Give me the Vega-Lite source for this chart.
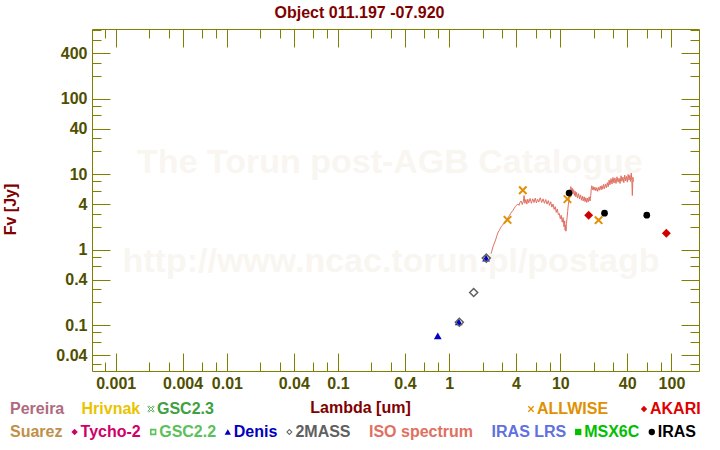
{
  "$schema": "https://vega.github.io/schema/vega-lite/v6.json",
  "width": 607,
  "height": 342,
  "autosize": "none",
  "padding": {"left": 92, "top": 29, "right": 21, "bottom": 79},
  "background": "white",
  "title": {"text": "Object 011.197 -07.920", "font": "Liberation Sans", "fontSize": 16, "fontWeight": "bold", "color": "#800000", "anchor": "middle", "dx": -36, "offset": 8},
  "datasets": {
    "phot": [
      {"catalog": "Denis", "lambda": 0.79, "flux": 0.072},
      {"catalog": "Denis", "lambda": 1.22, "flux": 0.11},
      {"catalog": "Denis", "lambda": 2.15, "flux": 0.77},
      {"catalog": "2MASS", "lambda": 1.235, "flux": 0.109},
      {"catalog": "2MASS", "lambda": 1.662, "flux": 0.27},
      {"catalog": "2MASS", "lambda": 2.159, "flux": 0.77},
      {"catalog": "ALLWISE", "lambda": 3.35, "flux": 2.47},
      {"catalog": "ALLWISE", "lambda": 4.6, "flux": 6.1},
      {"catalog": "ALLWISE", "lambda": 11.6, "flux": 4.65},
      {"catalog": "ALLWISE", "lambda": 22.1, "flux": 2.45},
      {"catalog": "AKARI", "lambda": 18, "flux": 2.85},
      {"catalog": "AKARI", "lambda": 90, "flux": 1.64},
      {"catalog": "IRAS", "lambda": 12, "flux": 5.6},
      {"catalog": "IRAS", "lambda": 25, "flux": 3.03},
      {"catalog": "IRAS", "lambda": 60, "flux": 2.85}
    ],
    "watermark": [
      {"text": "The Torun post-AGB Catalogue", "lambda": 0.293, "flux": 14.1},
      {"text": "http://www.ncac.torun.pl/postagb", "lambda": 0.3, "flux": 0.685}
    ],
    "spectrum": [
      {"lambda": 2.38, "flux": 0.88}, {"lambda": 2.42, "flux": 0.95}, {"lambda": 2.46, "flux": 1.05}, {"lambda": 2.5, "flux": 1.12},
      {"lambda": 2.55, "flux": 1.22}, {"lambda": 2.6, "flux": 1.3}, {"lambda": 2.65, "flux": 1.42}, {"lambda": 2.7, "flux": 1.55},
      {"lambda": 2.76, "flux": 1.7}, {"lambda": 2.82, "flux": 1.78}, {"lambda": 2.88, "flux": 1.9}, {"lambda": 2.95, "flux": 2.02},
      {"lambda": 3.02, "flux": 2.1}, {"lambda": 3.1, "flux": 2.22}, {"lambda": 3.18, "flux": 2.35}, {"lambda": 3.26, "flux": 2.45},
      {"lambda": 3.34, "flux": 2.55}, {"lambda": 3.42, "flux": 2.72}, {"lambda": 3.5, "flux": 2.85}, {"lambda": 3.58, "flux": 3.02},
      {"lambda": 3.66, "flux": 3.15}, {"lambda": 3.75, "flux": 3.3}, {"lambda": 3.84, "flux": 3.5}, {"lambda": 3.94, "flux": 3.7},
      {"lambda": 4.04, "flux": 3.85}, {"lambda": 4.14, "flux": 4.02}, {"lambda": 4.25, "flux": 3.85}, {"lambda": 4.35, "flux": 4.25},
      {"lambda": 4.45, "flux": 4.4}, {"lambda": 4.55, "flux": 3.95}, {"lambda": 4.65, "flux": 4.35}, {"lambda": 4.72, "flux": 5.2},
      {"lambda": 4.8, "flux": 4.1}, {"lambda": 4.9, "flux": 4.6}, {"lambda": 5.0, "flux": 4.0}, {"lambda": 5.1, "flux": 4.65},
      {"lambda": 5.2, "flux": 4.15}, {"lambda": 5.35, "flux": 4.75}, {"lambda": 5.5, "flux": 4.1}, {"lambda": 5.65, "flux": 4.7},
      {"lambda": 5.8, "flux": 4.2}, {"lambda": 5.95, "flux": 4.8}, {"lambda": 6.1, "flux": 4.15}, {"lambda": 6.25, "flux": 4.65},
      {"lambda": 6.4, "flux": 4.25}, {"lambda": 6.6, "flux": 4.85}, {"lambda": 6.8, "flux": 4.2}, {"lambda": 7.0, "flux": 4.7},
      {"lambda": 7.2, "flux": 4.1}, {"lambda": 7.4, "flux": 4.6}, {"lambda": 7.6, "flux": 4.0}, {"lambda": 7.8, "flux": 4.45},
      {"lambda": 8.0, "flux": 3.85}, {"lambda": 8.2, "flux": 4.3}, {"lambda": 8.4, "flux": 3.65}, {"lambda": 8.6, "flux": 4.0},
      {"lambda": 8.8, "flux": 3.4}, {"lambda": 9.0, "flux": 3.7}, {"lambda": 9.2, "flux": 3.1}, {"lambda": 9.4, "flux": 3.45},
      {"lambda": 9.6, "flux": 2.9}, {"lambda": 9.8, "flux": 3.0}, {"lambda": 10.0, "flux": 2.55}, {"lambda": 10.2, "flux": 2.85},
      {"lambda": 10.4, "flux": 2.3}, {"lambda": 10.6, "flux": 2.65}, {"lambda": 10.8, "flux": 2.0}, {"lambda": 10.95, "flux": 2.4},
      {"lambda": 11.05, "flux": 1.8}, {"lambda": 11.15, "flux": 2.1}, {"lambda": 11.25, "flux": 1.75}, {"lambda": 11.35, "flux": 2.2},
      {"lambda": 11.5, "flux": 2.6}, {"lambda": 11.65, "flux": 3.2}, {"lambda": 11.8, "flux": 3.9}, {"lambda": 11.95, "flux": 4.4},
      {"lambda": 12.05, "flux": 5.5}, {"lambda": 12.15, "flux": 6.2}, {"lambda": 12.3, "flux": 5.3}, {"lambda": 12.45, "flux": 6.8},
      {"lambda": 12.6, "flux": 5.9}, {"lambda": 12.8, "flux": 6.5}, {"lambda": 13.0, "flux": 5.5}, {"lambda": 13.2, "flux": 6.2},
      {"lambda": 13.4, "flux": 5.2}, {"lambda": 13.6, "flux": 5.9}, {"lambda": 13.8, "flux": 5.0}, {"lambda": 14.0, "flux": 5.7},
      {"lambda": 14.3, "flux": 4.8}, {"lambda": 14.6, "flux": 5.5}, {"lambda": 14.9, "flux": 4.7}, {"lambda": 15.2, "flux": 5.3},
      {"lambda": 15.5, "flux": 4.5}, {"lambda": 15.8, "flux": 5.1}, {"lambda": 16.1, "flux": 4.4}, {"lambda": 16.4, "flux": 5.0},
      {"lambda": 16.7, "flux": 4.3}, {"lambda": 17.0, "flux": 4.85}, {"lambda": 17.3, "flux": 4.2}, {"lambda": 17.6, "flux": 4.8},
      {"lambda": 17.9, "flux": 4.3}, {"lambda": 18.2, "flux": 5.0}, {"lambda": 18.5, "flux": 4.4}, {"lambda": 18.8, "flux": 5.2},
      {"lambda": 19.0, "flux": 6.4}, {"lambda": 19.2, "flux": 7.0}, {"lambda": 19.5, "flux": 6.2}, {"lambda": 19.8, "flux": 6.8},
      {"lambda": 20.1, "flux": 6.1}, {"lambda": 20.5, "flux": 6.7}, {"lambda": 20.9, "flux": 6.0}, {"lambda": 21.3, "flux": 6.6},
      {"lambda": 21.7, "flux": 5.9}, {"lambda": 22.1, "flux": 6.7}, {"lambda": 22.5, "flux": 6.1}, {"lambda": 22.9, "flux": 6.9},
      {"lambda": 23.3, "flux": 6.2}, {"lambda": 23.7, "flux": 7.0}, {"lambda": 24.1, "flux": 6.3}, {"lambda": 24.5, "flux": 7.3},
      {"lambda": 25.0, "flux": 6.4}, {"lambda": 25.5, "flux": 7.4}, {"lambda": 26.0, "flux": 6.6}, {"lambda": 26.5, "flux": 7.7},
      {"lambda": 27.0, "flux": 6.8}, {"lambda": 27.5, "flux": 8.3}, {"lambda": 28.0, "flux": 7.2}, {"lambda": 28.6, "flux": 8.7},
      {"lambda": 29.2, "flux": 7.4}, {"lambda": 29.8, "flux": 9.0}, {"lambda": 30.4, "flux": 7.6}, {"lambda": 31.0, "flux": 8.9},
      {"lambda": 31.7, "flux": 7.5}, {"lambda": 32.4, "flux": 9.2}, {"lambda": 33.1, "flux": 7.8}, {"lambda": 33.8, "flux": 8.8},
      {"lambda": 34.5, "flux": 7.5}, {"lambda": 35.2, "flux": 9.5}, {"lambda": 35.9, "flux": 8.0}, {"lambda": 36.6, "flux": 9.1},
      {"lambda": 37.3, "flux": 7.7}, {"lambda": 38.0, "flux": 9.7}, {"lambda": 38.7, "flux": 8.1}, {"lambda": 39.4, "flux": 9.3},
      {"lambda": 40.1, "flux": 7.8}, {"lambda": 40.8, "flux": 9.9}, {"lambda": 41.5, "flux": 8.3}, {"lambda": 42.2, "flux": 9.6},
      {"lambda": 42.9, "flux": 8.0}, {"lambda": 43.5, "flux": 10.3}, {"lambda": 44.0, "flux": 8.2}, {"lambda": 44.5, "flux": 5.2},
      {"lambda": 45.0, "flux": 9.1}, {"lambda": 45.4, "flux": 7.9}
    ]
  },
  "layer": [
    {
      "data": {"name": "watermark"},
      "mark": {"type": "text", "font": "Liberation Sans", "fontSize": 34, "fontWeight": "bold", "color": "#f9f6f1", "align": "center", "baseline": "middle"},
      "encoding": {
        "x": {"field": "lambda", "type": "quantitative", "scale": {"type": "log", "domain": [0.000612, 177], "nice": false}, "axis": null},
        "y": {"field": "flux", "type": "quantitative", "scale": {"type": "log", "domain": [0.0246, 835], "nice": false}, "axis": null},
        "text": {"field": "text", "type": "nominal"}
      }
    },
    {
      "data": {"name": "spectrum"},
      "mark": {"type": "line", "color": "#e07060", "strokeWidth": 1},
      "encoding": {
        "x": {"field": "lambda", "type": "quantitative", "scale": {"type": "log", "domain": [0.000612, 177], "nice": false},
          "axis": {"orient": "bottom", "values": [0.001, 0.004, 0.01, 0.04, 0.1, 0.4, 1, 4, 10, 40, 100], "format": "~g", "tickSize": -18, "labelPadding": 22, "title": "Lambda [um]", "titleX": 268, "titleY": 41, "titleAlign": "center", "titleBaseline": "alphabetic", "titleAnchor": null, "labelOverlap": false, "labelFlush": false}},
        "y": {"field": "flux", "type": "quantitative", "scale": {"type": "log", "domain": [0.0246, 835], "nice": false},
          "axis": {"orient": "left", "values": [0.04, 0.1, 0.4, 1, 4, 10, 40, 100, 400], "format": "~g", "tickSize": -18, "labelPadding": 23, "title": "Fv [Jy]", "titleX": -82, "titleY": 180, "titleAngle": -90, "titleAlign": "center", "titleBaseline": "middle", "labelOverlap": false, "labelFlush": false}}
      }
    },
    {
      "data": {"name": "phot"},
      "transform": [{"filter": "datum.catalog === 'Denis'"}],
      "mark": {"type": "point", "shape": "triangle-up", "filled": true, "color": "#0000c8", "size": 60, "opacity": 1},
      "encoding": {
        "x": {"field": "lambda", "type": "quantitative", "scale": {"type": "log", "domain": [0.000612, 177], "nice": false},
          "axis": {"orient": "bottom", "values": [0.0008, 0.002, 0.003, 0.006, 0.008, 0.02, 0.03, 0.06, 0.08, 0.2, 0.3, 0.6, 0.8, 2, 3, 6, 8, 20, 30, 60, 80], "tickSize": -9, "labels": false, "title": null}},
        "y": {"field": "flux", "type": "quantitative", "scale": {"type": "log", "domain": [0.0246, 835], "nice": false},
          "axis": {"orient": "left", "values": [0.03, 0.06, 0.08, 0.2, 0.3, 0.6, 0.8, 2, 3, 6, 8, 20, 30, 60, 80, 200, 300, 600, 800], "tickSize": -9, "labels": false, "title": null}}
      }
    },
    {
      "data": {"name": "phot"},
      "transform": [{"filter": "datum.catalog === '2MASS'"}],
      "mark": {"type": "point", "shape": "diamond", "filled": false, "color": "#606060", "strokeWidth": 1.5, "size": 64, "opacity": 1},
      "encoding": {
        "x": {"field": "lambda", "type": "quantitative", "scale": {"type": "log", "domain": [0.000612, 177], "nice": false},
          "axis": {"orient": "top", "values": [0.001, 0.004, 0.01, 0.04, 0.1, 0.4, 1, 4, 10, 40, 100], "tickSize": -18, "labels": false, "title": null}},
        "y": {"field": "flux", "type": "quantitative", "scale": {"type": "log", "domain": [0.0246, 835], "nice": false},
          "axis": {"orient": "right", "values": [0.04, 0.1, 0.4, 1, 4, 10, 40, 100, 400], "tickSize": -18, "labels": false, "title": null}}
      }
    },
    {
      "data": {"name": "phot"},
      "transform": [{"filter": "datum.catalog === 'ALLWISE'"}],
      "mark": {"type": "point", "shape": "M-1,-1L1,1M-1,1L1,-1", "filled": false, "color": "#e09000", "strokeWidth": 2, "size": 56, "opacity": 1},
      "encoding": {
        "x": {"field": "lambda", "type": "quantitative", "scale": {"type": "log", "domain": [0.000612, 177], "nice": false},
          "axis": {"orient": "top", "values": [0.0008, 0.002, 0.003, 0.006, 0.008, 0.02, 0.03, 0.06, 0.08, 0.2, 0.3, 0.6, 0.8, 2, 3, 6, 8, 20, 30, 60, 80], "tickSize": -9, "labels": false, "title": null}},
        "y": {"field": "flux", "type": "quantitative", "scale": {"type": "log", "domain": [0.0246, 835], "nice": false},
          "axis": {"orient": "right", "values": [0.03, 0.06, 0.08, 0.2, 0.3, 0.6, 0.8, 2, 3, 6, 8, 20, 30, 60, 80, 200, 300, 600, 800], "tickSize": -9, "labels": false, "title": null}}
      }
    },
    {
      "data": {"name": "phot"},
      "transform": [{"filter": "datum.catalog === 'AKARI'"}],
      "mark": {"type": "point", "shape": "diamond", "filled": true, "color": "#d00000", "size": 80, "opacity": 1},
      "encoding": {
        "x": {"field": "lambda", "type": "quantitative", "scale": {"type": "log", "domain": [0.000612, 177], "nice": false}, "axis": null},
        "y": {"field": "flux", "type": "quantitative", "scale": {"type": "log", "domain": [0.0246, 835], "nice": false}, "axis": null}
      }
    },
    {
      "data": {"name": "phot"},
      "transform": [{"filter": "datum.catalog === 'IRAS'"}],
      "mark": {"type": "point", "shape": "circle", "filled": true, "color": "#000000", "size": 45, "opacity": 1},
      "encoding": {
        "x": {"field": "lambda", "type": "quantitative", "scale": {"type": "log", "domain": [0.000612, 177], "nice": false}, "axis": null},
        "y": {"field": "flux", "type": "quantitative", "scale": {"type": "log", "domain": [0.0246, 835], "nice": false}, "axis": null}
      }
    },
    {
      "data": {"values": []},
      "mark": {"type": "point", "filled": true},
      "encoding": {
        "color": {"field": "catalog", "type": "nominal",
          "scale": {"domain": ["Suarez", "Tycho-2", "GSC2.2", "Denis", "2MASS", "ISO spectrum", "IRAS LRS", "MSX6C", "IRAS"], "range": ["#c0904a", "#d0006a", "#5cc05c", "#0000c0", "#606060", "#e07060", "#6070e0", "#00c000", "#000000"]},
          "legend": {"title": null, "orient": "none", "legendX": -96, "legendY": 395, "direction": "horizontal", "columnPadding": 3.6,
            "symbolType": {"expr": "datum.value==='Tycho-2'?'diamond':datum.value==='2MASS'?'M0,-1L1,0L0,1L-1,0Z M0,-0.55L-0.55,0L0,0.55L0.55,0Z':datum.value==='GSC2.2'?'M-1,-1L1,-1L1,1L-1,1Z M-0.5,-0.5L-0.5,0.5L0.5,0.5L0.5,-0.5Z':datum.value==='MSX6C'?'square':datum.value==='Denis'?'triangle-up':datum.value==='IRAS'?'circle':'M0,0'"},
            "labelColor": {"expr": "scale('color', datum.value)"}}
        }
      }
    },
    {
      "data": {"values": []},
      "mark": {"type": "point", "filled": false},
      "encoding": {
        "stroke": {"field": "catalog", "type": "nominal",
          "scale": {"domain": ["Pereira", "Hrivnak", "GSC2.3"], "range": ["#b06a80", "#e8c400", "#40a040"]},
          "legend": {"title": null, "orient": "none", "legendX": -96, "legendY": 372, "direction": "horizontal", "columnPadding": 2.5,
            "symbolType": {"expr": "datum.value==='GSC2.3'?'M-1,-0.7L-0.7,-1L0,-0.3L0.7,-1L1,-0.7L0.3,0L1,0.7L0.7,1L0,0.3L-0.7,1L-1,0.7L-0.3,0Z':'M0,0'"},
            "symbolStrokeWidth": 0.8,
            "symbolFillColor": {"expr": "scale('stroke', datum.value)"},
            "labelColor": {"expr": "scale('stroke', datum.value)"}}
        }
      }
    },
    {
      "data": {"values": []},
      "mark": {"type": "point", "filled": true},
      "encoding": {
        "fill": {"field": "catalog", "type": "nominal",
          "scale": {"domain": ["ALLWISE", "AKARI"], "range": ["#e09000", "#e00000"]},
          "legend": {"title": null, "orient": "none", "legendX": 431, "legendY": 372, "direction": "horizontal", "columnPadding": 27,
            "symbolType": {"expr": "datum.value==='ALLWISE'?'M-1,-0.7L-0.7,-1L0,-0.3L0.7,-1L1,-0.7L0.3,0L1,0.7L0.7,1L0,0.3L-0.7,1L-1,0.7L-0.3,0Z':'diamond'"},
            "labelColor": {"expr": "scale('fill', datum.value)"}}
        }
      }
    }
  ],
  "resolve": {"axis": {"x": "independent", "y": "independent"}},
  "config": {
    "view": {"stroke": "#808000", "strokeWidth": 1},
    "axis": {"domain": false, "grid": false, "tickColor": "#808000", "tickWidth": 1, "labelFont": "Liberation Sans", "labelFontSize": 16, "labelFontWeight": "bold", "labelColor": "#4f4f00", "titleFont": "Liberation Sans", "titleFontSize": 16, "titleFontWeight": "bold", "titleColor": "#800000"},
    "legend": {"labelFont": "Liberation Sans", "labelFontSize": 16, "labelFontWeight": "bold", "symbolSize": 40, "labelOffset": -2, "padding": 0, "labelLimit": 300, "symbolOpacity": 1}
  }
}
